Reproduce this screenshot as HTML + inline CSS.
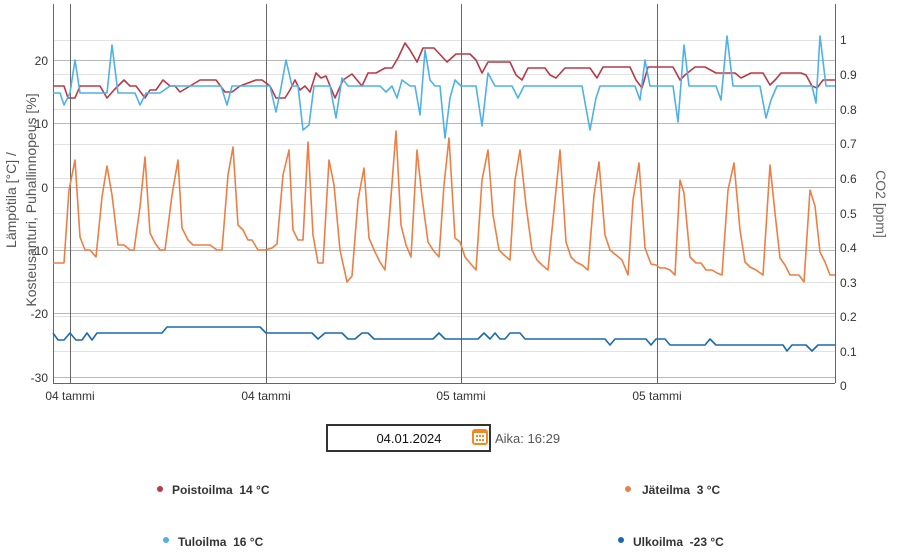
<!DOCTYPE html>
<html><head><meta charset="utf-8"><style>
body{margin:0;background:#fff;width:899px;height:553px;overflow:hidden;font-family:"Liberation Sans",sans-serif;}
</style></head><body>
<svg width="899" height="553" xmlns="http://www.w3.org/2000/svg" style="position:absolute;left:0;top:0">
<g stroke="#e2e2e2" stroke-width="1">
<line x1="53" x2="835" y1="40.5" y2="40.5"/><line x1="53" x2="835" y1="74.5" y2="74.5"/><line x1="53" x2="835" y1="109.5" y2="109.5"/><line x1="53" x2="835" y1="144.5" y2="144.5"/><line x1="53" x2="835" y1="178.5" y2="178.5"/><line x1="53" x2="835" y1="213.5" y2="213.5"/><line x1="53" x2="835" y1="247.5" y2="247.5"/><line x1="53" x2="835" y1="282.5" y2="282.5"/><line x1="53" x2="835" y1="316.5" y2="316.5"/><line x1="53" x2="835" y1="351.5" y2="351.5"/>
</g>
<g stroke="#b8b8b8" stroke-width="1">
<line x1="53" x2="835" y1="60.5" y2="60.5"/><line x1="53" x2="835" y1="123.5" y2="123.5"/><line x1="53" x2="835" y1="187.5" y2="187.5"/><line x1="53" x2="835" y1="250.5" y2="250.5"/><line x1="53" x2="835" y1="313.5" y2="313.5"/><line x1="53" x2="835" y1="377.5" y2="377.5"/>
</g>
<g stroke="#666" stroke-width="1">
<line x1="70.5" x2="70.5" y1="4" y2="383"/><line x1="266.5" x2="266.5" y1="4" y2="383"/><line x1="461.5" x2="461.5" y1="4" y2="383"/><line x1="657.5" x2="657.5" y1="4" y2="383"/>
<line x1="53.5" x2="53.5" y1="4" y2="383"/><line x1="835.5" x2="835.5" y1="4" y2="383"/><line x1="53" x2="835" y1="383.5" y2="383.5"/>
</g>
<g fill="none" stroke-width="1.6" stroke-linejoin="round">
<polyline stroke="#ec7f45" points="53,263 64,263 69,190 75,160 80,237 85,250 90,250 96,257 102,197 107,166 112,195 118,245 124,245 130,250 134,250 140,207 145,157 150,233 155,243 160,250 165,250 172,195 178,160 182,228 188,240 193,245 210,245 217,250 222,250 228,175 233,147 238,225 243,230 248,240 252,240 258,250 265,250 272,248 277,244 283,175 289,150 293,230 298,240 303,240 308,142 313,235 318,263 323,263 329,160 334,185 340,250 347,282 352,276 358,200 364,168 369,238 375,252 380,262 385,270 390,210 396,131 401,225 406,245 411,257 417,150 422,197 428,242 433,250 439,257 444,185 449,138 455,238 460,242 465,257 470,263 476,270 482,180 488,150 493,215 499,250 504,255 510,260 515,180 520,150 526,205 532,250 537,260 542,265 548,270 555,200 560,150 566,242 571,257 576,262 582,265 588,270 594,195 599,162 605,235 610,250 616,255 622,260 628,275 633,200 639,163 645,248 651,264 656,265 660,268 665,268 670,270 675,275 680,180 684,193 690,257 696,263 701,263 706,270 712,270 717,273 722,275 728,190 734,163 740,230 745,262 750,267 756,270 763,275 770,165 775,213 780,258 785,265 790,275 799,275 804,282 810,190 815,206 820,252 825,262 830,275 835,275"/>
<polyline stroke="#b63a47" points="53,86 64,86 68,98 75,98 80,86 100,86 107,98 114,90 124,80 130,86 136,86 145,98 150,90 156,90 163,80 170,86 175,86 180,92 200,80 216,80 225,92 232,92 240,86 256,80 262,80 270,86 276,98 285,98 290,90 295,80 300,90 305,86 310,92 316,73 321,78 326,76 335,98 343,80 352,74 362,86 368,73 376,73 385,68 392,68 398,58 405,43 410,50 417,62 423,48 434,48 447,62 456,54 470,54 476,60 482,73 488,62 510,62 516,75 522,80 528,68 545,68 550,75 556,78 565,68 590,68 597,78 603,67 630,67 636,80 642,88 648,67 673,67 680,80 685,75 695,67 705,67 716,73 735,73 741,78 751,73 763,73 770,85 776,79 781,73 801,73 806,75 812,86 817,88 823,80 835,80"/>
<polyline stroke="#4fb1e8" points="53,93 60,93 64,105 70,93 75,60 80,93 107,93 112,45 118,93 135,93 140,105 146,93 160,93 170,86 183,86 200,86 221,86 227,105 232,86 270,86 276,112 280,93 286,60 292,86 298,86 303,130 309,125 314,86 320,86 330,86 336,118 342,78 348,86 354,86 362,86 368,86 380,86 386,92 392,86 397,98 402,80 410,86 415,86 420,115 425,50 430,80 435,86 440,86 445,138 450,98 455,80 461,86 476,86 482,126 488,73 495,86 512,86 518,98 524,86 576,86 582,86 590,130 596,98 600,86 635,86 640,100 645,60 650,86 673,86 678,122 684,45 689,86 716,86 721,100 727,36 733,86 760,86 766,118 771,100 777,86 812,86 816,103 820,36 826,86 835,86"/>
<polyline stroke="#1a6aad" points="53,333 58,340 64,340 70,333 76,340 82,340 87,333 92,340 97,333 162,333 167,327 260,327 266,333 312,333 318,339 325,333 342,333 348,339 355,339 362,333 368,333 374,339 433,339 439,333 445,339 478,339 484,333 490,339 495,333 500,339 505,339 510,333 520,333 525,339 605,339 610,345 615,339 646,339 651,345 656,339 665,339 670,345 705,345 710,339 716,345 783,345 787,351 792,345 806,345 812,351 818,345 835,345"/>
</g>
<g font-size="12" fill="#333" text-anchor="end">
<text x="48" y="65">20</text><text x="48" y="128">10</text><text x="48" y="192">0</text><text x="48" y="255">-10</text><text x="48" y="318">-20</text><text x="48" y="382">-30</text>
</g>
<g font-size="12" fill="#333">
<text x="840" y="44">1</text><text x="840" y="79">0.9</text><text x="840" y="114">0.8</text><text x="840" y="148">0.7</text><text x="840" y="183">0.6</text><text x="840" y="218">0.5</text><text x="840" y="252">0.4</text><text x="840" y="287">0.3</text><text x="840" y="321">0.2</text><text x="840" y="356">0.1</text><text x="840" y="390">0</text>
</g>
<g font-size="12" fill="#333" text-anchor="middle">
<text x="70" y="400">04 tammi</text><text x="266" y="400">04 tammi</text><text x="461" y="400">05 tammi</text><text x="657" y="400">05 tammi</text>
</g>
<g font-size="14" fill="#555" text-anchor="middle">
<text transform="translate(16,200) rotate(-90)">Lämpötila [°C] /</text>
<text transform="translate(36,200) rotate(-90)">Kosteusanturi, Puhallinnopeus [%]</text>
<text transform="translate(876,204) rotate(90)" fill="#666">CO2 [ppm]</text>
</g>
<rect x="327" y="425" width="163" height="26" fill="#fff" stroke="#333" stroke-width="2"/>
<text x="409" y="443" font-size="13" fill="#111" text-anchor="middle">04.01.2024</text>
<rect x="473" y="430" width="14" height="14" rx="2" fill="#fff" stroke="#f08a24" stroke-width="2"/>
<rect x="474" y="430" width="12" height="3" fill="#f08a24"/>
<g fill="#f08a24"><rect x="476" y="435" width="2" height="2"/><rect x="479" y="435" width="2" height="2"/><rect x="482" y="435" width="2" height="2"/><rect x="476" y="439" width="2" height="2"/><rect x="479" y="439" width="2" height="2"/><rect x="482" y="439" width="2" height="2"/></g>
<text x="495" y="443" font-size="13" fill="#555">Aika: 16:29</text>
<g font-size="12" font-weight="bold" fill="#333">
<circle cx="160" cy="489" r="3" fill="#b63a47"/><text x="172" y="494">Poistoilma&#160;&#160;14 °C</text>
<circle cx="628" cy="489" r="3" fill="#ec7f45"/><text x="642" y="494">Jäteilma&#160;&#160;3 °C</text>
<circle cx="166" cy="540" r="3" fill="#4fb1e8"/><text x="178" y="546">Tuloilma&#160;&#160;16 °C</text>
<circle cx="621" cy="540" r="3" fill="#1a6aad"/><text x="633" y="546">Ulkoilma&#160;&#160;-23 °C</text>
</g>
</svg>
</body></html>
